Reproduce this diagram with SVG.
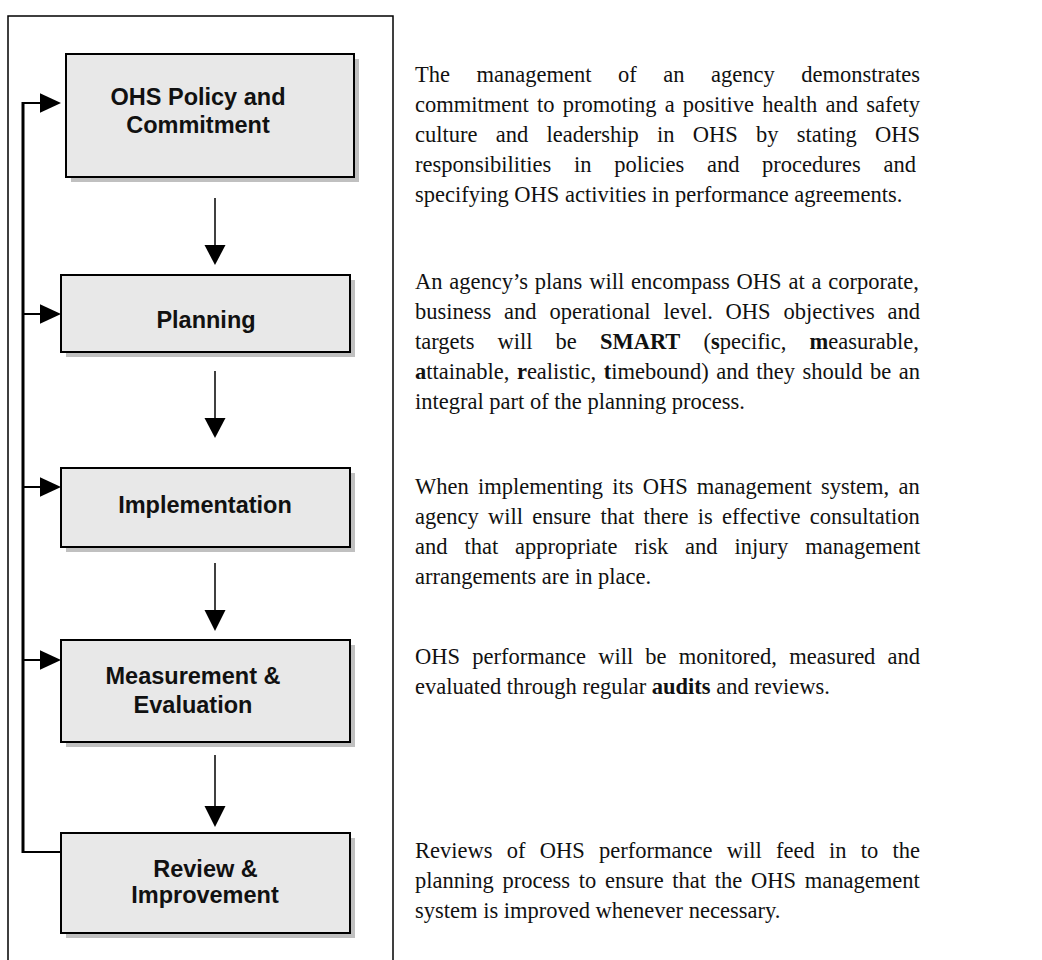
<svg xmlns="http://www.w3.org/2000/svg" width="1042" height="960" viewBox="0 0 1042 960">
<style>
.frame{fill:#fff;stroke:#000;stroke-width:1.5}
.box{fill:#e8e8e8;stroke:#000;stroke-width:2}
.shadow{fill:#c0c0c0}
.lbl{font-family:"Liberation Sans",Arial,sans-serif;font-weight:bold;font-size:23.5px;fill:#111;text-anchor:middle}
.para{font-family:"Liberation Serif","Times New Roman",serif;font-size:22.5px;fill:#111}
.b{font-weight:bold}
.ln{stroke:#000;fill:none}
.head{fill:#000}
</style>
<rect width="1042" height="960" fill="#fff"/>
<rect class="frame" x="8" y="16" width="385" height="960"/>

<g id="connectors">
  <line class="ln" x1="215" y1="198" x2="215" y2="247" stroke-width="1.5"/>
  <polygon class="head" points="204.5,245 225.5,245 215,265"/>
  <line class="ln" x1="215" y1="371" x2="215" y2="420" stroke-width="1.5"/>
  <polygon class="head" points="204.5,418 225.5,418 215,438"/>
  <line class="ln" x1="215" y1="563" x2="215" y2="612" stroke-width="1.5"/>
  <polygon class="head" points="204.5,610 225.5,610 215,631"/>
  <line class="ln" x1="215" y1="755" x2="215" y2="808" stroke-width="1.5"/>
  <polygon class="head" points="204.5,806 225.5,806 215,827"/>
  <line class="ln" x1="23" y1="102" x2="23" y2="853" stroke-width="3"/>
  <line class="ln" x1="22" y1="852" x2="61" y2="852" stroke-width="2"/>
  <line class="ln" x1="22" y1="103" x2="42" y2="103" stroke-width="2"/>
  <polygon class="head" points="40,93.3 40,112.7 61,103"/>
  <line class="ln" x1="22" y1="314" x2="42" y2="314" stroke-width="2"/>
  <polygon class="head" points="40,304.3 40,323.7 61,314"/>
  <line class="ln" x1="22" y1="487" x2="42" y2="487" stroke-width="2"/>
  <polygon class="head" points="40,477.3 40,496.7 61,487"/>
  <line class="ln" x1="22" y1="660" x2="42" y2="660" stroke-width="2"/>
  <polygon class="head" points="40,650.3 40,669.7 61,660"/>
</g>

<g id="node-policy">
  <rect class="shadow" x="71" y="59" width="288" height="123"/>
  <rect class="box" x="66" y="54" width="288" height="123"/>
  <text class="lbl" x="198" y="105">OHS Policy and</text>
  <text class="lbl" x="198" y="133">Commitment</text>
</g>
<g id="node-planning">
  <rect class="shadow" x="66" y="280" width="289" height="77"/>
  <rect class="box" x="61" y="275" width="289" height="77"/>
  <text class="lbl" x="206" y="328">Planning</text>
</g>
<g id="node-implementation">
  <rect class="shadow" x="66" y="473" width="289" height="79"/>
  <rect class="box" x="61" y="468" width="289" height="79"/>
  <text class="lbl" x="205" y="513">Implementation</text>
</g>
<g id="node-measurement">
  <rect class="shadow" x="66" y="645" width="289" height="102"/>
  <rect class="box" x="61" y="640" width="289" height="102"/>
  <text class="lbl" x="193" y="684">Measurement &amp;</text>
  <text class="lbl" x="193" y="713">Evaluation</text>
</g>
<g id="node-review">
  <rect class="shadow" x="66" y="838" width="289" height="100"/>
  <rect class="box" x="61" y="833" width="289" height="100"/>
  <text class="lbl" x="205.5" y="877">Review &amp;</text>
  <text class="lbl" x="205" y="903">Improvement</text>
</g>

<g id="text-policy" class="para">
  <text x="415" y="82" word-spacing="20.9">The management of an agency demonstrates</text>
  <text x="415" y="112" word-spacing="2.6">commitment to promoting a positive health and safety</text>
  <text x="415" y="142" word-spacing="12.6">culture and leadership in OHS by stating OHS</text>
  <text x="415" y="172" word-spacing="17.1">responsibilities in policies and procedures and</text>
  <text x="415" y="202">specifying OHS activities in performance agreements.</text>
</g>
<g id="text-planning" class="para">
  <text x="415" y="289" word-spacing="1.2">An agency’s plans will encompass OHS at a corporate,</text>
  <text x="415" y="319" word-spacing="7.2">business and operational level. OHS objectives and</text>
  <text x="415" y="349" word-spacing="17.4">targets will be <tspan class="b">SMART</tspan> (<tspan class="b">s</tspan>pecific, <tspan class="b">m</tspan>easurable,</text>
  <text x="415" y="379" word-spacing="1.9"><tspan class="b">a</tspan>ttainable, <tspan class="b">r</tspan>ealistic, <tspan class="b">t</tspan>imebound) and they should be an</text>
  <text x="415" y="409">integral part of the planning process.</text>
</g>
<g id="text-implementation" class="para">
  <text x="415" y="494" word-spacing="3.6">When implementing its OHS management system, an</text>
  <text x="415" y="524" word-spacing="3.7">agency will ensure that there is effective consultation</text>
  <text x="415" y="554" word-spacing="11.3">and that appropriate risk and injury management</text>
  <text x="415" y="584">arrangements are in place.</text>
</g>
<g id="text-measurement" class="para">
  <text x="415" y="664" word-spacing="6.6">OHS performance will be monitored, measured and</text>
  <text x="415" y="694">evaluated through regular <tspan class="b">audits</tspan> and reviews.</text>
</g>
<g id="text-review" class="para">
  <text x="415" y="858" word-spacing="8.6">Reviews of OHS performance will feed in to the</text>
  <text x="415" y="888" word-spacing="3.1">planning process to ensure that the OHS management</text>
  <text x="415" y="918">system is improved whenever necessary.</text>
</g>
</svg>
